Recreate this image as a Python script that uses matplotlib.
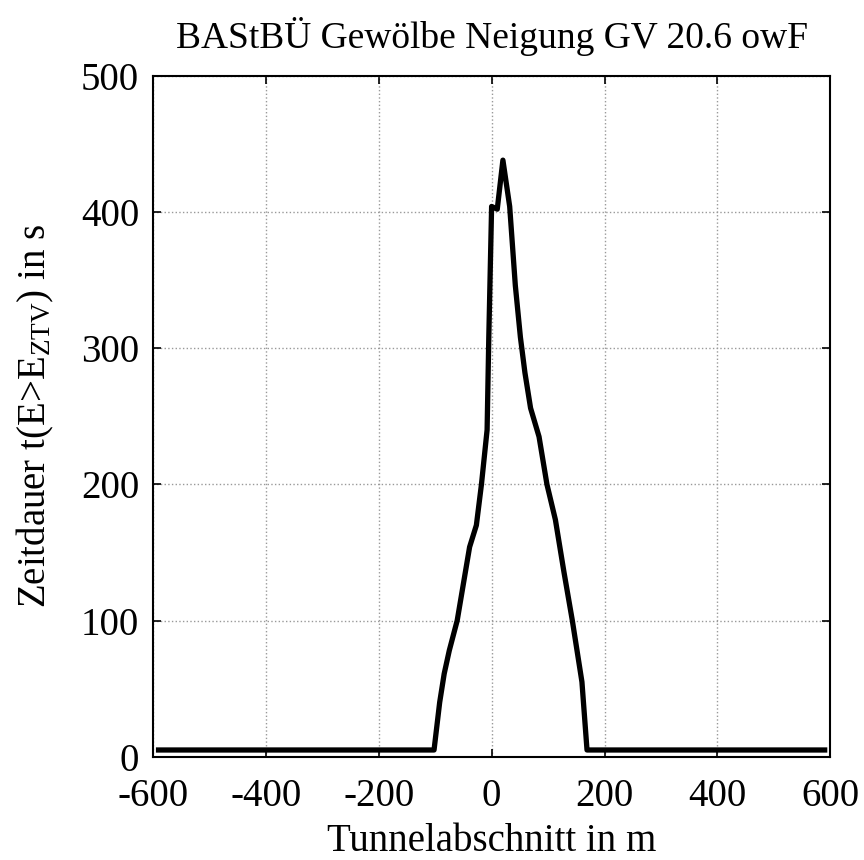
import matplotlib
matplotlib.use("Agg")
import matplotlib.pyplot as plt

# tunnel section (m) and duration above threshold (s)
x_m = [-590, -102, -92, -84, -75, -61, -39, -27, -18, -8, -5, 0, 10, 20,
       32, 42, 51, 59, 69, 84, 98, 113, 128, 143, 160, 169, 590]
t_s = [5, 5, 40, 61, 78, 100, 154, 170, 200, 240, 308, 404, 402, 438,
       404, 346, 308, 282, 256, 235, 200, 174, 136, 100, 55, 5, 5]

xticks = [-600, -400, -200, 0, 200, 400, 600]
yticks = [0, 100, 200, 300, 400, 500]

plt.rcParams['font.family'] = ['Liberation Serif', 'DejaVu Serif']
plt.rcParams['mathtext.fontset'] = 'custom'
plt.rcParams['mathtext.rm'] = 'Liberation Serif'
plt.rcParams['mathtext.it'] = 'Liberation Serif'

fig = plt.figure(figsize=(8.64, 8.6), dpi=100)
ax = fig.add_axes([0.177, 0.12, 0.784, 0.792])

ax.plot(x_m, t_s, color='black', linewidth=3.8)

ax.set_xlim(-600, 600)
ax.set_ylim(0, 500)
ax.set_xticks(xticks)
ax.set_yticks(yticks)
ax.set_xticklabels([str(v) for v in xticks])
ax.grid(True, color='#999999', linestyle=':', linewidth=1.0)
ax.tick_params(direction='in', top=True, right=True, length=6, width=1.2,
               labelsize=28)
ax.tick_params(axis='x', pad=15)
ax.tick_params(axis='y', pad=10)
for s in ax.spines.values():
    s.set_linewidth(1.5)

ax.set_title('BAStBÜ Gewölbe Neigung GV 20.6 owF', fontsize=27, pad=20)
ax.set_xlabel('Tunnelabschnitt in m', fontsize=28, va='center')
ax.xaxis.set_label_coords(0.5, -0.124)
ax.set_ylabel(r'Zeitdauer t(E>E$_\mathregular{ZTV}$) in s', fontsize=28, labelpad=18)

fig.savefig('out.png', dpi=100)
